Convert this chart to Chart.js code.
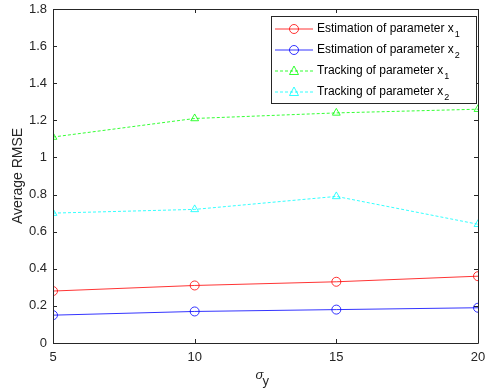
<!DOCTYPE html>
<html>
<head>
<meta charset="utf-8">
<script src="https://cdn.jsdelivr.net/npm/chart.js@4/dist/chart.umd.min.js"></script>
<style>
html,body{margin:0;padding:0;background:#fff;}
#wrap{width:487px;height:391px;}
</style>
</head>
<body>
<div id="wrap"><canvas id="c" width="487" height="391"></canvas></div>
<script>
// sigma_y values on x axis
let sigmaY = [5, 10, 15, 20];
let estX1 = [0.28, 0.31, 0.33, 0.36];
let estX2 = [0.15, 0.17, 0.18, 0.19];
let trkX1 = [1.11, 1.21, 1.24, 1.26];
let trkX2 = [0.70, 0.72, 0.79, 0.64];
let xTicks = [5, 10, 15, 20];
let yTicks = [0, 0.2, 0.4, 0.6, 0.8, 1, 1.2, 1.4, 1.6, 1.8];

let names = ['Estimation of parameter x', 'Estimation of parameter x', 'Tracking of parameter x', 'Tracking of parameter x'];
let subs = ['1', '2', '1', '2'];
let cols = ['#ff0000', '#0000ff', '#00ff00', '#00ffff'];
let shapes = ['circle', 'circle', 'triangle', 'triangle'];
let dashes = [[], [], [3, 2], [3, 2]];
let series = [estX1, estX2, trkX1, trkX2];

const FONT = 'Liberation Sans, Arial, sans-serif';

function pts(arr) {
    return arr.map((v, i) => ({x: sigmaY[i], y: v}));
}

let datasets = series.map((s, k) => ({
    label: names[k] + subs[k],
    data: pts(s),
    borderColor: cols[k],
    backgroundColor: 'rgba(0,0,0,0)',
    borderWidth: 0.8,
    borderDash: dashes[k],
    pointStyle: shapes[k],
    pointRadius: 4.5,
    pointBorderWidth: 0.8,
    pointBorderColor: cols[k],
    pointBackgroundColor: 'rgba(0,0,0,0)',
    tension: 0
}));

// box, inward ticks, x title and legend like matlab
const matlabBox = {
    id: 'matlabBox',
    afterDraw(chart) {
        const ctx = chart.ctx;
        const a = chart.chartArea;
        const xs = chart.scales.x, ys = chart.scales.y;
        ctx.save();
        ctx.strokeStyle = '#262626';
        ctx.lineWidth = 1;
        ctx.beginPath();
        ctx.rect(Math.round(a.left) + 0.5, Math.round(a.top) + 0.5, Math.round(a.right - a.left), Math.round(a.bottom - a.top));
        ctx.stroke();
        ctx.beginPath();
        xTicks.forEach(t => {
            let x = Math.round(xs.getPixelForValue(t)) + 0.5;
            ctx.moveTo(x, a.bottom); ctx.lineTo(x, a.bottom - 4);
            ctx.moveTo(x, a.top); ctx.lineTo(x, a.top + 4);
        });
        yTicks.forEach(t => {
            let y = Math.round(ys.getPixelForValue(t)) + 0.5;
            ctx.moveTo(a.left, y); ctx.lineTo(a.left + 4, y);
            ctx.moveTo(a.right, y); ctx.lineTo(a.right - 4, y);
        });
        ctx.stroke();

        // x title: sigma with subscript y
        ctx.fillStyle = '#262626';
        ctx.textBaseline = 'alphabetic';
        ctx.textAlign = 'left';
        let cx = (a.left + a.right) / 2;
        ctx.font = 'italic 13px ' + FONT;
        ctx.fillText('σ', cx - 10, 379);
        ctx.font = '13px ' + FONT;
        ctx.fillText('y', cx - 3, 385);

        // legend
        let lx = 271, ly = 16, lw = 205, lh = 87;
        ctx.fillStyle = '#fff';
        ctx.fillRect(lx, ly, lw, lh);
        ctx.strokeStyle = '#262626';
        ctx.lineWidth = 1;
        ctx.strokeRect(lx + 0.5, ly + 0.5, lw, lh);
        for (let k = 0; k < 4; k++) {
            let y = 29 + k * 21;
            ctx.strokeStyle = cols[k];
            ctx.lineWidth = 0.8;
            ctx.setLineDash(dashes[k]);
            ctx.beginPath();
            ctx.moveTo(275, y); ctx.lineTo(313, y);
            ctx.stroke();
            ctx.setLineDash([]);
            ctx.beginPath();
            if (shapes[k] === 'circle') {
                ctx.arc(294, y, 4.5, 0, Math.PI * 2);
            } else {
                ctx.moveTo(294, y - 5); ctx.lineTo(298.5, y + 3.5); ctx.lineTo(289.5, y + 3.5); ctx.closePath();
            }
            ctx.stroke();
            ctx.fillStyle = '#000';
            ctx.font = '12px ' + FONT;
            ctx.textBaseline = 'middle';
            ctx.fillText(names[k], 317, y);
            let w = ctx.measureText(names[k]).width;
            ctx.font = '9px ' + FONT;
            ctx.fillText(subs[k], 317 + w + 1, y + 6);
        }
        ctx.restore();
    }
};

new Chart(document.getElementById('c'), {
    type: 'line',
    data: {datasets: datasets},
    options: {
        responsive: false,
        animation: false,
        layout: {padding: {top: 9, right: 9, left: 0, bottom: 0}},
        plugins: {legend: {display: false}, tooltip: {enabled: false}},
        scales: {
            x: {
                type: 'linear', min: 5, max: 20,
                afterBuildTicks: s => { s.ticks = xTicks.map(v => ({value: v})); },
                afterFit: s => { s.height = 48; s.paddingLeft = 0; s.paddingRight = 0; },
                grid: {display: false, drawTicks: false},
                border: {display: false},
                ticks: {color: '#262626', font: {family: FONT, size: 13}, padding: 7, maxRotation: 0,
                    callback: v => String(v)}
            },
            y: {
                min: 0, max: 1.8,
                afterBuildTicks: s => { s.ticks = yTicks.map(v => ({value: v})); },
                afterFit: s => { s.width = 53; s.paddingTop = 0; s.paddingBottom = 0; },
                grid: {display: false, drawTicks: false},
                border: {display: false},
                ticks: {color: '#262626', font: {family: FONT, size: 13}, padding: 6,
                    callback: v => String(Math.round(v * 10) / 10)},
                title: {display: true, text: 'Average RMSE', color: '#262626', font: {family: FONT, size: 14}, padding: {top: 10, bottom: 0}}
            }
        }
    },
    plugins: [matlabBox]
});
</script>
</body>
</html>
